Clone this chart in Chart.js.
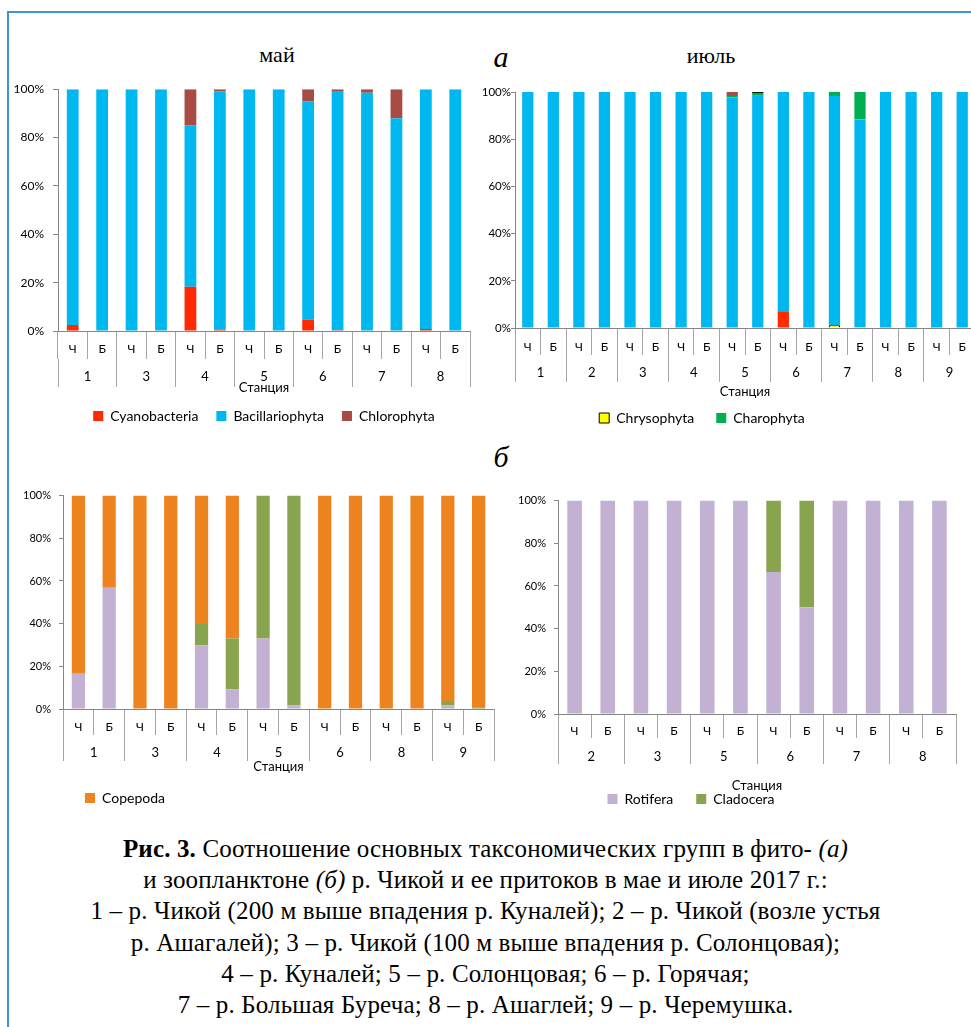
<!DOCTYPE html>
<html lang="ru">
<head>
<meta charset="utf-8">
<title>Рис. 3</title>
<script src="https://cdn.jsdelivr.net/npm/chart.js@4.4.1/dist/chart.umd.min.js"></script>
<style>
    html, body { margin: 0; padding: 0; background: #fff; overflow: hidden; }
    #page { position: relative; width: 971px; height: 1027px; overflow: hidden; background: #fff; }
    .frame { position: absolute; left: 7px; top: 11px; width: 1000px; height: 1100px;
             border-top: 2px solid #3b97d4; border-left: 2px solid #3b97d4; }
    .box { position: absolute; }
    .title { position: absolute; font-family: 'Liberation Serif', serif; font-size: 22px;
             line-height: 1; transform: translate(-50%, -50%); white-space: nowrap; color: #000; }
    .mark { font-style: italic; font-size: 30px; }
    .caption { position: absolute; left: 0; width: 971px; top: 833px; text-align: center;
               font-family: 'Liberation Serif', serif; font-size: 25px; line-height: 31.2px;
               letter-spacing: 0.15px; color: #000; }
</style>
</head>
<body>
<div id="page">
    <div class="frame"></div>

    <div class="title" style="left:277px;top:55px">май</div>
    <div class="title" style="left:711px;top:56px">июль</div>
    <div class="title mark" style="left:501px;top:57px">а</div>
    <div class="title mark" style="left:501px;top:457px">б</div>

    <div class="box" style="left:0;top:73px"><canvas id="phytoMay" width="472" height="360"></canvas></div>
    <div class="box" style="left:429px;top:82px"><canvas id="phytoJul" width="548" height="353"></canvas></div>
    <div class="box" style="left:0;top:481px"><canvas id="zooMay" width="496" height="334"></canvas></div>
    <div class="box" style="left:426px;top:486px"><canvas id="zooJul" width="532" height="330"></canvas></div>

    <div class="caption">
        <b>Рис. 3.</b> Соотношение основных таксономических групп в фито- <i>(а)</i><br>
        и зоопланктоне <i>(б)</i> р. Чикой и ее притоков в мае и июле 2017 г.:<br>
        1 – р. Чикой (200 м выше впадения р. Куналей); 2 – р. Чикой (возле устья<br>
        р. Ашагалей); 3 – р. Чикой (100 м выше впадения р. Солонцовая);<br>
        4 – р. Куналей; 5 – р. Солонцовая; 6 – р. Горячая;<br>
        7 – р. Большая Буреча; 8 – р. Ашаглей; 9 – р. Черемушка.
    </div>
</div>

<script>
// Data (%, each station: Ч then Б)
const yTicks = [0, 20, 40, 60, 80, 100];
const pointLabels = ['Ч', 'Б'];

// Phytoplankton, May
const phytoMayStations = ['1', '3', '4', '5', '6', '7', '8'];
const phytoMayCyano  = [2.5, 0, 0, 0, 18.3, 0.5, 0, 0, 4.7, 0.3, 0, 0, 0.8, 0];
const phytoMayBacil  = [97.5, 100, 100, 100, 66.8, 98.7, 100, 100, 90.3, 98.6, 98.5, 88, 99.2, 100];
const phytoMayChloro = [0, 0, 0, 0, 14.9, 0.8, 0, 0, 5.0, 1.1, 1.5, 12, 0, 0];

// Phytoplankton, July
const phytoJulStations = ['1', '2', '3', '4', '5', '6', '7', '8', '9'];
const phytoJulCyano  = [0, 0, 0, 0, 0, 0, 0, 0, 0, 0, 7.1, 0, 0, 0, 0, 0, 0, 0];
const phytoJulChryso = [0, 0, 0, 0, 0, 0, 0, 0, 0, 0, 0, 0, 1.2, 0.3, 0, 0, 0, 0];
const phytoJulBacil  = [100, 100, 100, 100, 100, 100, 100, 100, 97.8, 98.4, 92.9, 100, 97.1, 88.1, 100, 100, 100, 100];
const phytoJulCharo  = [0, 0, 0, 0, 0, 0, 0, 0, 0.5, 1.2, 0, 0, 1.7, 11.6, 0, 0, 0, 0];
const phytoJulChloro = [0, 0, 0, 0, 0, 0, 0, 0, 1.7, 0, 0, 0, 0, 0, 0, 0, 0, 0];
const phytoJulEugl   = [0, 0, 0, 0, 0, 0, 0, 0, 0, 0.4, 0, 0, 0, 0, 0, 0, 0, 0];

// Zooplankton, May
const zooMayStations = ['1', '3', '4', '5', '6', '8', '9'];
const zooMayRoti = [16.5, 56.8, 0, 0, 29.9, 9.3, 33, 1.8, 0, 0, 0, 0, 1.7, 0];
const zooMayClad = [0, 0, 0, 0, 9.9, 23.7, 67, 98.2, 0, 0, 0, 0, 2.0, 0.8];
const zooMayCope = [83.5, 43.2, 100, 100, 60.2, 67, 0, 0, 100, 100, 100, 100, 96.3, 99.2];

// Zooplankton, July
const zooJulStations = ['2', '3', '5', '6', '7', '8'];
const zooJulRoti = [100, 100, 100, 100, 100, 100, 66.5, 50, 100, 100, 100, 100];
const zooJulClad = [0, 0, 0, 0, 0, 0, 33.5, 50, 0, 0, 0, 0];

Chart.defaults.font.family = 'Lato, "Open Sans", sans-serif';
Chart.defaults.color = '#000';
Chart.defaults.animation = false;

const AXIS = '#868686';
const SEP = '#a6a6a6';

function pairs(stations) {
    const out = [];
    stations.forEach(() => out.push(...pointLabels));
    return out;
}

function series(label, data, color, extra) {
    return Object.assign({ label: label, data: data, backgroundColor: color, borderWidth: 0 }, extra || {});
}

// Stacked 100% bar chart with two-row category axis (Ч/Б + station)
function makeChart(id, o) {
    const ctx = document.getElementById(id);
    return new Chart(ctx, {
        type: 'bar',
        data: {
            labels: pairs(o.stations),
            datasets: o.datasets.map(d => Object.assign(d, {
                barPercentage: o.barPct,
                categoryPercentage: 1
            }))
        },
        options: {
            responsive: false,
            layout: { padding: { top: 10, right: 2, left: 0, bottom: 0 } },
            plugins: {
                tooltip: { enabled: false },
                legend: {
                    position: 'bottom',
                    fullSize: o.legend.fullSize,
                    align: o.legend.align,
                    labels: {
                        boxWidth: 10,
                        boxHeight: 10,
                        padding: o.legend.pad,
                        font: { size: 14 },
                        color: '#000',
                        filter: item => o.legend.show.includes(item.text)
                    }
                }
            },
            scales: {
                x: {
                    stacked: true,
                    grid: { offset: true, drawOnChartArea: false, tickLength: o.row1.h, color: SEP },
                    border: { color: AXIS },
                    ticks: { autoSkip: false, maxRotation: 0, padding: o.row1.pad, font: { size: 12 } },
                    afterFit: s => { s.height = o.row1.h; }
                },
                x2: {
                    type: 'category',
                    labels: o.stations,
                    position: 'bottom',
                    offset: true,
                    weight: 1,
                    grid: { offset: true, drawOnChartArea: false, tickLength: o.row2.tl, color: SEP },
                    border: { display: false },
                    ticks: { autoSkip: false, maxRotation: 0, padding: o.row2.pad, font: { size: 13 } },
                    title: {
                        display: true,
                        text: 'Станция',
                        font: { size: 13 },
                        padding: { top: 0, bottom: o.row2.titlePad }
                    },
                    afterFit: s => { s.height = o.row2.h; }
                },
                y: {
                    stacked: true,
                    min: 0,
                    max: 100,
                    grid: { drawOnChartArea: false, tickLength: o.y.tick, color: AXIS },
                    border: { color: AXIS },
                    ticks: {
                        stepSize: 20,
                        padding: o.y.pad,
                        font: { size: o.y.font },
                        callback: v => yTicks.includes(v) ? v + '%' : ''
                    },
                    afterFit: s => { s.width = o.y.width; }
                }
            }
        }
    });
}

makeChart('phytoMay', {
    stations: phytoMayStations,
    barPct: 0.40,
    datasets: [
        series('Cyanobacteria', phytoMayCyano, '#ff2a00'),
        series('Bacillariophyta', phytoMayBacil, '#00b8f0'),
        series('Chlorophyta', phytoMayChloro, '#a94a44')
    ],
    legend: { fullSize: false, align: 'center', pad: 18, show: ['Cyanobacteria', 'Bacillariophyta', 'Chlorophyta'] },
    row1: { h: 28, pad: -17.2 },
    row2: { h: 32, tl: 28, pad: -17.8, titlePad: -4.8 },
    y: { width: 58, tick: 5, pad: 9, font: 12 }
});

makeChart('phytoJul', {
    stations: phytoJulStations,
    barPct: 0.44,
    datasets: [
        series('Cyanobacteria', phytoJulCyano, '#ff2a00'),
        series('Chrysophyta', phytoJulChryso, '#ffff00', { borderWidth: 1, borderColor: '#000' }),
        series('Bacillariophyta', phytoJulBacil, '#00b8f0'),
        series('Charophyta', phytoJulCharo, '#00b050'),
        series('Chlorophyta', phytoJulChloro, '#a94a44'),
        series('Euglenophyta', phytoJulEugl, '#000')
    ],
    legend: { fullSize: true, align: 'center', pad: 22, show: ['Chrysophyta', 'Charophyta'] },
    row1: { h: 27, pad: -15.2 },
    row2: { h: 34, tl: 27, pad: -16.8, titlePad: -10.8 },
    y: { width: 86, tick: 4, pad: 0, font: 11.5 }
});

makeChart('zooMay', {
    stations: zooMayStations,
    barPct: 0.43,
    datasets: [
        series('Rotifera', zooMayRoti, '#c3b1d4'),
        series('Cladocera', zooMayClad, '#88a44f'),
        series('Copepoda', zooMayCope, '#ee841f')
    ],
    legend: { fullSize: false, align: 'start', pad: 22, show: ['Copepoda'] },
    row1: { h: 26, pad: -15.2 },
    row2: { h: 34, tl: 26, pad: -15.8, titlePad: -5.8 },
    y: { width: 63, tick: 4, pad: 8, font: 11 }
});

makeChart('zooJul', {
    stations: zooJulStations,
    barPct: 0.44,
    datasets: [
        series('Rotifera', zooJulRoti, '#c3b1d4'),
        series('Cladocera', zooJulClad, '#88a44f')
    ],
    legend: { fullSize: true, align: 'center', pad: 23, show: ['Rotifera', 'Cladocera'] },
    row1: { h: 24, pad: -14.2 },
    row2: { h: 31, tl: 26, pad: -14.8, titlePad: -24.8 },
    y: { width: 132, tick: 4, pad: 8, font: 11 }
});
</script>
</body>
</html>
